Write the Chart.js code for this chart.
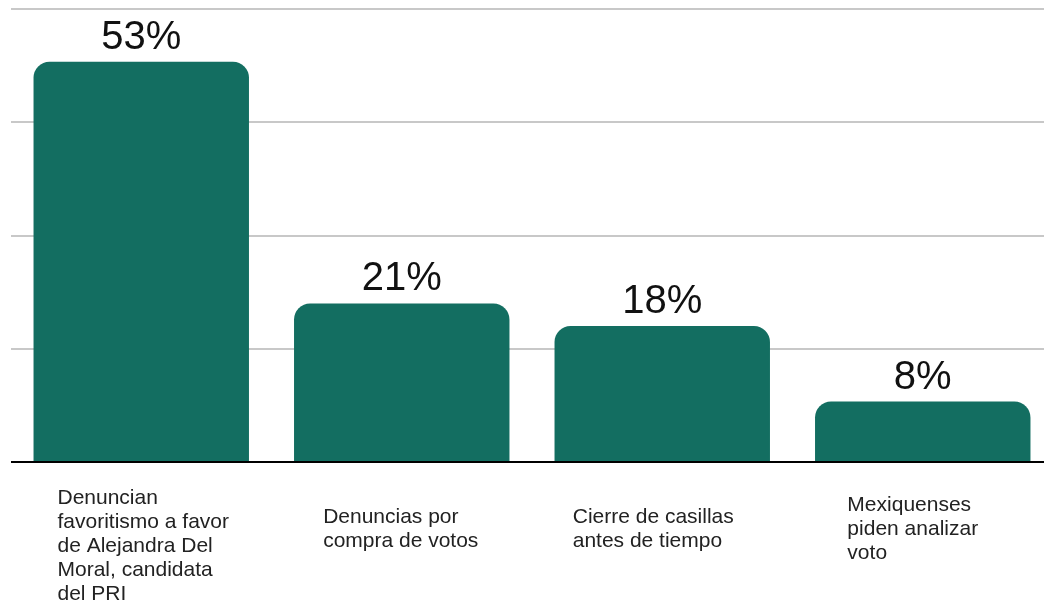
<!DOCTYPE html>
<html>
<head>
<meta charset="utf-8">
<script src="https://cdn.jsdelivr.net/npm/chart.js@4"></script>
<style>
  html, body { margin: 0; padding: 0; background: #fff; overflow: hidden; }
  canvas { display: block; }
</style>
</head>
<body>
<canvas id="denunciasChart" width="1053" height="603"></canvas>
<script>
// datos
const categorias = [
  ['Denuncian', 'favoritismo a favor', 'de Alejandra Del', 'Moral, candidata', 'del PRI'],
  ['Denuncias por', 'compra de votos'],
  ['Cierre de casillas', 'antes de tiempo'],
  ['Mexiquenses', 'piden analizar', 'voto']
];
const porcentajes = [53, 21, 18, 8];
const ejeY = [0, 15, 30, 45, 60];

const verde = '#136e61';

// etiquetas de valor encima de cada barra
const valorPlugin = {
  id: 'valores',
  afterDatasetsDraw(chart) {
    const ctx = chart.ctx;
    const meta = chart.getDatasetMeta(0);
    ctx.save();
    ctx.font = '40px "Liberation Sans", Arial, sans-serif';
    ctx.fillStyle = '#111';
    ctx.textAlign = 'center';
    ctx.textBaseline = 'alphabetic';
    meta.data.forEach((bar, i) => {
      ctx.fillText(porcentajes[i] + '%', bar.x, bar.y - 13);
    });
    ctx.restore();
  }
};

// etiquetas de categoria bajo el eje (bloque centrado, texto a la izquierda)
const ajusteX = [2, -1, -9, -10]; // pequeño desplazamiento de cada bloque
const categoriaPlugin = {
  id: 'categorias',
  afterDraw(chart) {
    const ctx = chart.ctx;
    const x = chart.scales.x;
    ctx.save();
    ctx.font = '21px "Liberation Sans", Arial, sans-serif';
    ctx.fillStyle = '#222';
    ctx.textAlign = 'left';
    ctx.textBaseline = 'alphabetic';
    categorias.forEach((lineas, i) => {
      const centro = x.getPixelForValue(i);
      const ancho = Math.max(...lineas.map(l => ctx.measureText(l).width));
      const izq = centro - ancho / 2 + ajusteX[i];
      const y0 = Math.max(504, 535 - (lineas.length - 1) * 12);
      lineas.forEach((l, j) => ctx.fillText(l, izq, y0 + j * 24));
    });
    ctx.restore();
  }
};

const data = {
  labels: categorias.map(c => c.join(' ')),
  datasets: [{
    data: porcentajes,
    backgroundColor: verde,
    borderWidth: 0,
    borderRadius: { topLeft: 16, topRight: 16, bottomLeft: 0, bottomRight: 0 },
    borderSkipped: 'bottom',
    barPercentage: 0.827,
    categoryPercentage: 1
  }]
};

const config = {
  type: 'bar',
  data: data,
  options: {
    responsive: false,
    animation: false,
    layout: { padding: { left: 11, right: 0, top: 9, bottom: 141 } },
    plugins: {
      legend: { display: false },
      tooltip: { enabled: false }
    },
    scales: {
      x: {
        display: false
      },
      y: {
        min: ejeY[0],
        max: ejeY[ejeY.length - 1],
        afterBuildTicks: (axis) => { axis.ticks = ejeY.map(v => ({ value: v })); },
        ticks: { display: false },
        border: { display: false },
        grid: {
          drawTicks: false,
          lineWidth: 2,
          color: (c) => c.tick && c.tick.value === 0 ? '#000' : '#c8c8c8'
        }
      }
    }
  },
  plugins: [valorPlugin, categoriaPlugin]
};

new Chart(document.getElementById('denunciasChart'), config);
</script>
</body>
</html>
